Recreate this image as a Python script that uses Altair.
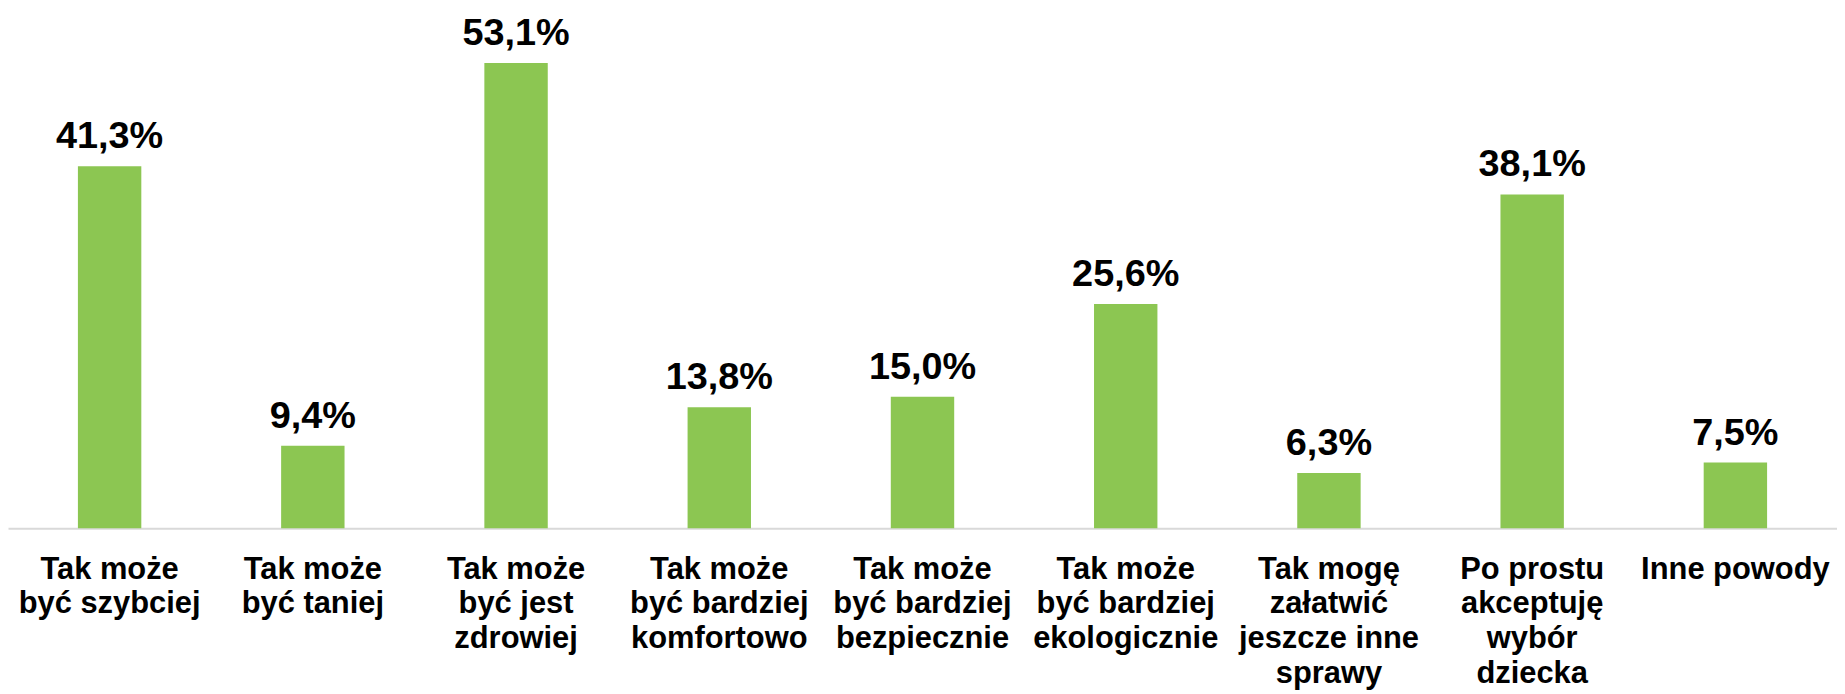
import altair as alt
import pandas as pd

categories = [
    "Tak może\nbyć szybciej",
    "Tak może\nbyć taniej",
    "Tak może\nbyć jest\nzdrowiej",
    "Tak może\nbyć bardziej\nkomfortowo",
    "Tak może\nbyć bardziej\nbezpiecznie",
    "Tak może\nbyć bardziej\nekologicznie",
    "Tak mogę\nzałatwić\njeszcze inne\nsprawy",
    "Po prostu\nakceptuję\nwybór\ndziecka",
    "Inne powody",
]
values = [41.3, 9.4, 53.1, 13.8, 15.0, 25.6, 6.3, 38.1, 7.5]
value_labels = ["41,3%", "9,4%", "53,1%", "13,8%", "15,0%", "25,6%", "6,3%", "38,1%", "7,5%"]

df = pd.DataFrame({"cat": categories, "val": values, "lab": value_labels})

FONT = "Liberation Sans"

x = alt.X(
    "cat:N",
    sort=categories,
    title=None,
    scale=alt.Scale(paddingInner=0.688, paddingOuter=0.344),
    axis=alt.Axis(
        labelAngle=0,
        labelExpr="split(datum.label, '\\n')",
        labelFont=FONT,
        labelFontSize=31,
        labelFontWeight="bold",
        labelColor="#000000",
        labelLineHeight=35,
        labelBaseline="top",
        labelPadding=26,
        labelLimit=0,
        ticks=False,
        tickSize=0,
        domainColor="#D9D9D9",
        domainWidth=2,
        grid=False,
    ),
)
y = alt.Y(
    "val:Q",
    title=None,
    scale=alt.Scale(domain=[0, 59.2], nice=False, zero=True),
    axis=None,
)

bars = alt.Chart(df).mark_bar(color="#8CC652").encode(x=x, y=y)
text = alt.Chart(df).mark_text(
    font=FONT, fontSize=38, fontWeight="bold", color="#000000",
    baseline="alphabetic", dy=-18,
).encode(x=alt.X("cat:N", sort=categories), y=y, text="lab:N")

chart = (
    alt.layer(bars, text)
    .properties(
        width=1837,
        height=521,
        background="#FFFFFF",
        autosize=alt.AutoSizeParams(type="none"),
        padding={"left": 0, "top": 0, "right": 0, "bottom": 165},
    )
    .configure_view(strokeWidth=0, stroke="transparent")
)

chart.save("out.html", embed_options={"renderer": "svg", "actions": False})
